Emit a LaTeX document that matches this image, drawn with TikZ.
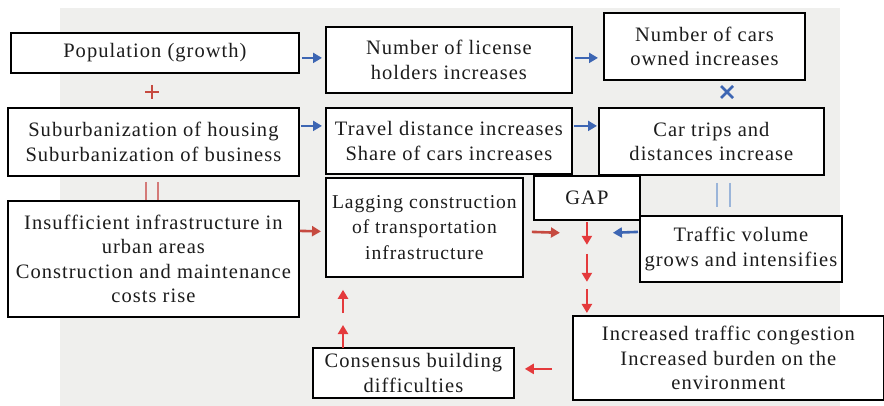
\documentclass[tikz,border=0pt]{standalone}
\usepackage{fontspec}
\setmainfont{Liberation Serif}[LetterSpace=5]
\usetikzlibrary{arrows.meta,calc}
\definecolor{bgc}{HTML}{EFEFED}
\definecolor{txt}{HTML}{1C1C1C}
\definecolor{arrblue}{HTML}{3D66B3}
\definecolor{lightblue}{HTML}{9BB5D9}
\definecolor{brightred}{HTML}{E43A3C}
\definecolor{darkred}{HTML}{C64A40}
\definecolor{pinkred}{HTML}{D47A78}
\begin{document}
\begin{tikzpicture}[x=1pt,y=-1pt,
  box/.style={draw=black, line width=1.8pt, fill=white, inner sep=0pt, align=center,
    anchor=north west, text=txt, font=\fontsize{20.5}{24.5}\selectfont},
  tipstyle/.style={-{Triangle[length=9pt,width=10pt]}},
  barr/.style={draw=arrblue, line width=2.6pt, tipstyle},
  rarr/.style={draw=brightred, line width=2.6pt, tipstyle},
  drarr/.style={draw=darkred, line width=2.6pt, tipstyle}]
\useasboundingbox (0,0) rectangle (884,406);
\fill[bgc] (60,8) rectangle (840,406);

\node[box, minimum width=288pt, minimum height=40pt] (pop) at (10,32) {Population (growth)};
\node[box, minimum width=291pt, minimum height=68pt] (sub) at (7,107) {Suburbanization of housing\\Suburbanization of business};
\node[box, minimum width=246pt, minimum height=66pt] (lic) at (325,26) {Number of license\\holders increases};
\node[box, minimum width=246pt, minimum height=66pt] (trav) at (325,107) {Travel distance increases\\Share of cars increases};
\node[box, minimum width=201pt, minimum height=67pt] (own) at (603,12) {Number of cars\\owned increases};
\node[box, minimum width=225pt, minimum height=67pt] (trips) at (598,107) {Car trips and\\distances increase};
\node[box, minimum width=291pt, minimum height=116pt] (insuf) at (7,200) {Insufficient infrastructure in\\urban areas\\Construction and maintenance\\costs rise};
\node[box, minimum width=197pt, minimum height=99pt, font=\fontsize{19.6}{25.5}\selectfont] (lag) at (325,177) {Lagging construction\\of transportation\\infrastructure};
\node[box, minimum width=106pt, minimum height=44pt] (gap) at (533,175) {GAP};
\node[box, minimum width=202pt, minimum height=66pt] (vol) at (639,215) {Traffic volume\\grows and intensifies};
\node[box, minimum width=311pt, minimum height=84pt] (cong) at (572,315) {Increased traffic congestion\\Increased burden on the\\environment};
\node[box, minimum width=201pt, minimum height=50pt] (cons) at (312,347) {Consensus building\\difficulties};

% blue arrows
\draw[barr] ($(pop.east)+(2,5)$) -- ($(lic.west)+(-3,-2)$);
\draw[barr] ($(lic.east)+(2,-2)$) -- ($(own.west)+(-5,11.5)$);
\draw[barr] ($(sub.east)+(1,-16)$) -- ($(trav.west)+(-3,-15)$);
\draw[barr] ($(trav.east)+(1,-15)$) -- ($(trips.west)+(-1,-15.5)$);
\draw[barr] ($(vol.west)+(-1,-17)$) -- ($(gap.south)+(26,12)$);

% red arrows
\draw[drarr] ($(insuf.east)+(0,-28)$) -- ($(lag.west)+(-4,4)$);
\draw[drarr] ($(lag.east)+(8,4.5)$) -- ($(gap.south)+(-27,12)$);
\coordinate (gs) at (gap.south);
\draw[rarr] ($(gs)+(0,1)$) -- ($(gs)+(0,24)$);
\draw[rarr] ($(gs)+(0,33)$) -- ($(gs)+(0,61)$);
\draw[rarr] ($(gs)+(0,68)$) -- ($(cong.north -| gs)+(0,-2)$);
\draw[rarr] ($(cong.west)+(-20,11)$) -- ($(cons.east)+(10,-4)$);
\draw[rarr] ($(cons.north west)+(31,1)$) -- ($(cons.north west)+(31,-22)$);
\draw[rarr] ($(cons.north west)+(31,-34)$) -- ($(lag.south west)+(18,12)$);

% symbols
\draw[darkred, line width=2.4pt] (145,92) -- (159,92) (152,85) -- (152,99);
\draw[arrblue, line width=2.8pt] (721,86) -- (733,98) (721,98) -- (733,86);
\draw[pinkred, line width=2.4pt] (146,182) -- (146,200) (158,182) -- (158,200);
\draw[lightblue, line width=2.8pt] (717,183) -- (717,207) (730,183) -- (730,207);
\end{tikzpicture}
\end{document}
